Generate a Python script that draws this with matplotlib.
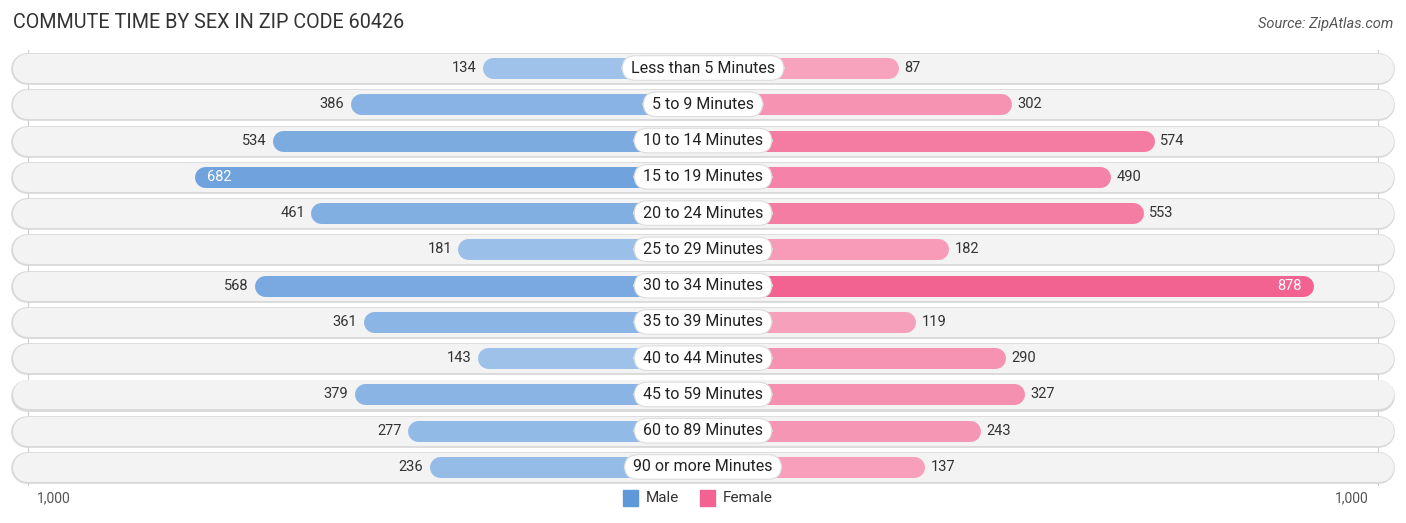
import numpy as np
import matplotlib
matplotlib.use("Agg")
import matplotlib.pyplot as plt

plt.rcParams['font.family'] = ['Roboto', 'DejaVu Sans']

# data
categories = ["Less than 5 Minutes", "5 to 9 Minutes", "10 to 14 Minutes", "15 to 19 Minutes",
              "20 to 24 Minutes", "25 to 29 Minutes", "30 to 34 Minutes", "35 to 39 Minutes",
              "40 to 44 Minutes", "45 to 59 Minutes", "60 to 89 Minutes", "90 or more Minutes"]
male = [134, 386, 534, 682, 461, 181, 568, 361, 143, 379, 277, 236]
female = [87, 302, 574, 490, 553, 182, 878, 119, 290, 327, 243, 137]

W, H = 1406, 523
fig = plt.figure(figsize=(W / 100, H / 100), dpi=100)
ax = fig.add_axes([0, 0, 1, 1])

pxu = 0.525          # pixels per value unit
off = 150 / pxu      # bars start behind the centre label
half = 703 / pxu
ax.set_xlim(-half, half)
row_px = 36.27
ax.set_ylim(11 + (H - 467) / row_px, -68 / row_px)
ax.axis('off')

def px(p):
    return p / pxu

male_dark = np.array([0x5f, 0x98, 0xd9]) / 255
male_light = np.array([0xa9, 0xc9, 0xec]) / 255
fem_dark = np.array([0xf2, 0x63, 0x92]) / 255
fem_light = np.array([0xf8, 0xaa, 0xc3]) / 255
vmax = max(max(male), max(female))

def shade(light, dark, v):
    t = v / vmax
    return light + (dark - light) * t

bar_lw = 21 * 0.72
row_lw = 29 * 0.72
r_bar = px(10.5)
r_row = px(14.5)

for i, cat in enumerate(categories):
    # row background
    x0, x1 = -half + px(12), -half + px(1393)
    ax.plot([x0 + r_row, x1 - r_row], [i + 0.03, i + 0.03], color='#d9d9d9', lw=row_lw + 2,
            solid_capstyle='round', zorder=1)
    ax.plot([x0 + r_row, x1 - r_row], [i, i], color='#f3f3f3', lw=row_lw,
            solid_capstyle='round', zorder=1)

    m, f = male[i], female[i]
    mend = -(off + m)
    fend = off + f
    ax.plot([0, mend + r_bar], [i, i], color=shade(male_light, male_dark, m), lw=bar_lw,
            solid_capstyle='round', zorder=2)
    ax.plot([0, fend - r_bar], [i, i], color=shade(fem_light, fem_dark, f), lw=bar_lw,
            solid_capstyle='round', zorder=2)

    if m == max(male):
        ax.text(mend + px(12), i, str(m), ha='left', va='center', fontsize=10.5,
                color='white', zorder=4)
    else:
        ax.text(mend - px(6), i, str(m), ha='right', va='center', fontsize=10.5,
                color='#333333', zorder=4)
    if f == max(female):
        ax.text(fend - px(12), i, str(f), ha='right', va='center', fontsize=10.5,
                color='white', zorder=4)
    else:
        ax.text(fend + px(6), i, str(f), ha='left', va='center', fontsize=10.5,
                color='#333333', zorder=4)

    ax.text(0, i, " " + cat + " ", ha='center', va='center', fontsize=11.5, color='#222222', zorder=5,
            bbox=dict(boxstyle='round,pad=0.3,rounding_size=0.85', fc='white', ec='#dddddd', lw=0.8))

# axis lines at 1,000
for s in (-1, 1):
    ax.plot([s * (off + 1000)] * 2, [-0.5, 11.5], color='#cccccc', lw=0.8, zorder=0)

ybot = 11 + (498 - 467) / row_px
ax.text(-half + px(37), ybot, "1,000", ha='left', va='center', fontsize=10, color='#555555')
ax.text(half - px(37), ybot, "1,000", ha='right', va='center', fontsize=10, color='#555555')

# legend
ax.add_patch(plt.Rectangle((-px(80), ybot - 0.23), px(15), 0.46, color=male_dark, zorder=3))
ax.text(-px(57), ybot, "Male", ha='left', va='center', fontsize=11, color='#333333')
ax.add_patch(plt.Rectangle((-px(3), ybot - 0.23), px(15), 0.46, color=fem_dark, zorder=3))
ax.text(px(20), ybot, "Female", ha='left', va='center', fontsize=11, color='#333333')

fig.text(13 / W, 1 - 22 / H, "COMMUTE TIME BY SEX IN ZIP CODE 60426", ha='left', va='center',
         fontsize=14.2, color='#333333')
fig.text(1393 / W, 1 - 24 / H, "Source: ZipAtlas.com", ha='right', va='center',
         fontsize=10.5, color='#555555', style='italic')

fig.savefig("out.png", dpi=100)
